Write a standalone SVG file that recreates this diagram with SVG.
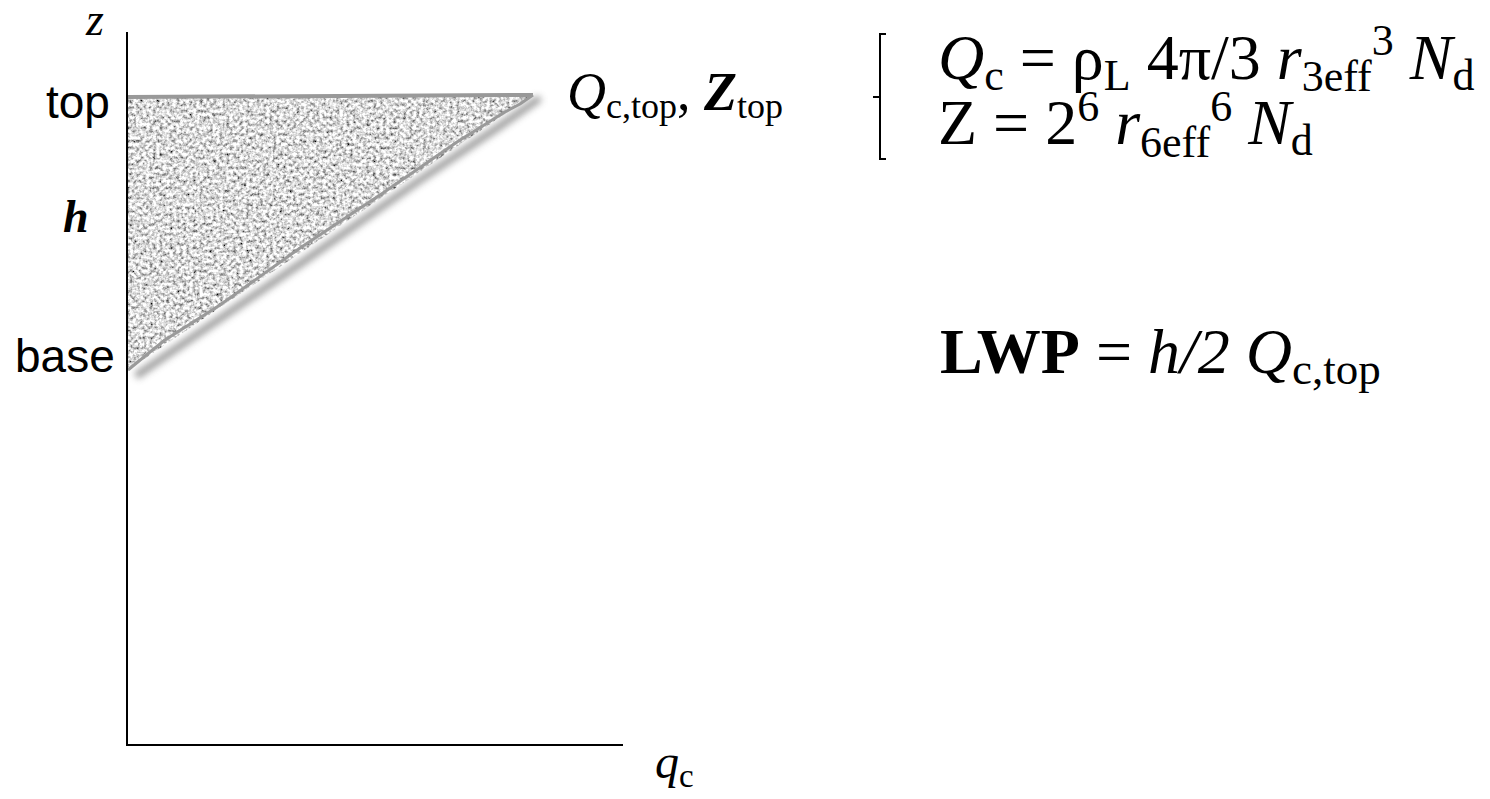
<svg xmlns="http://www.w3.org/2000/svg" width="1490" height="799" viewBox="0 0 1490 799">
<style>
.ax{stroke:#000;stroke-width:2;fill:none}
.sans{font-family:"Liberation Sans",Arial,sans-serif;font-size:46px;fill:#000}
.ser{font-family:"Liberation Serif","Times New Roman",serif;fill:#000}
.it{font-style:italic}
.b{font-weight:bold}
</style>
<defs>
<filter id="noise" x="0" y="0" width="100%" height="100%" filterUnits="objectBoundingBox">
<feTurbulence type="fractalNoise" baseFrequency="0.3" numOctaves="3" seed="11" result="t"/>
<feColorMatrix in="t" type="matrix" values="1 0 0 0 0 1 0 0 0 0 1 0 0 0 0 0 0 0 0 1" result="g"/>
<feComponentTransfer in="g" result="c">
<feFuncR type="linear" slope="1.9" intercept="-0.24"/>
<feFuncG type="linear" slope="1.9" intercept="-0.24"/>
<feFuncB type="linear" slope="1.9" intercept="-0.24"/>
<feFuncA type="linear" slope="0" intercept="1"/>
</feComponentTransfer>
<feComposite in="c" in2="SourceAlpha" operator="in"/>
</filter>
<filter id="shadow" x="-20%" y="-20%" width="140%" height="140%">
<feGaussianBlur stdDeviation="3.5"/>
</filter>
</defs>
<rect width="1490" height="799" fill="#fff"/>

<g id="cloud">
<polyline points="136,376 300,264 420,180 500,126 540,98" fill="none" stroke="#777" stroke-width="7" filter="url(#shadow)" opacity="0.75"/>
<polygon points="128,97 533,95 128,370" fill="#ccc" filter="url(#noise)"/>
<polyline points="128,97 533,95" fill="none" stroke="#999" stroke-width="4"/>
<polyline points="533,95 520,104 505,112 460,140 380,195 300,248 220,305 165,340 150,352 128,370" fill="none" stroke="#9a9a9a" stroke-width="3" stroke-linejoin="round"/>
</g>

<g id="axes">
<line class="ax" x1="127" y1="32" x2="127" y2="746"/>
<line class="ax" x1="126" y1="745" x2="623" y2="745"/>
</g>

<g id="axis-labels">
<text class="ser it" x="86" y="35" font-size="46">z</text>
<text class="sans" x="46" y="118">top</text>
<text class="ser it b" x="63" y="232" font-size="46">h</text>
<text class="sans" x="15" y="372">base</text>
<text class="ser it" x="655" y="778" font-size="48">q<tspan class="ser" font-style="normal" font-size="33" dy="9">c</tspan></text>
</g>

<g id="top-label">
<text class="ser" x="567" y="110" font-size="54"><tspan font-style="italic">Q</tspan><tspan font-size="36" dy="8">c,top</tspan><tspan dy="-8">, </tspan><tspan font-weight="bold" font-style="italic">Z</tspan><tspan font-size="36" dy="8">top</tspan></text>
</g>

<g id="bracket">
<path d="M886,34 L880,34 L880,159 L886,159 M880,97 L873,97" fill="none" stroke="#000" stroke-width="2"/>
</g>

<g id="equations">
<text class="ser" x="938" y="79" font-size="64"><tspan font-style="italic">Q</tspan><tspan font-size="44" dy="11">c</tspan><tspan dy="-11"> = ρ</tspan><tspan font-size="44" dy="11">L</tspan><tspan dy="-11"> 4π/3 </tspan><tspan font-style="italic">r</tspan><tspan font-size="44" dy="12">3eff</tspan><tspan font-size="44" dy="-36">3</tspan><tspan dy="24"> </tspan><tspan font-style="italic">N</tspan><tspan font-size="44" dy="11">d</tspan></text>
<text class="ser" x="938" y="144" font-size="64">Z = 2<tspan font-size="44" dy="-23">6</tspan><tspan dy="23"> </tspan><tspan font-style="italic">r</tspan><tspan font-size="44" dy="13">6eff</tspan><tspan font-size="44" dy="-36">6</tspan><tspan dy="23"> </tspan><tspan font-style="italic">N</tspan><tspan font-size="44" dy="11">d</tspan></text>
</g>

<g id="lwp">
<text class="ser" x="940" y="373" font-size="64"><tspan font-weight="bold">LWP</tspan> = <tspan font-style="italic">h/2</tspan>  <tspan font-style="italic">Q</tspan><tspan font-size="45" dy="11">c,top</tspan></text>
</g>
</svg>
